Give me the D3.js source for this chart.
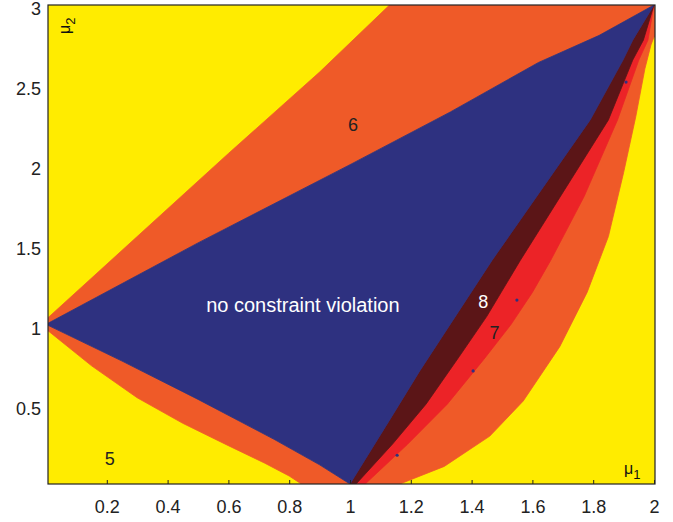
<!DOCTYPE html>
<html>
<head>
<meta charset="utf-8">
<script src="https://cdn.jsdelivr.net/npm/d3@7"></script>
<style>
  body { margin: 0; background: #fff; }
  svg { display: block; font-family: "Liberation Sans", Arial, sans-serif; }
</style>
</head>
<body>
<div id="chart"></div>
<script>
// Region boundaries as [mu1, mu2] pairs
const blueTop = [[0, 1], [0.5, 1.51], [1.0, 2.0], [1.33, 2.33], [1.62, 2.64], [1.82, 2.81], [2, 3]];
const blueLow = [[0, 1], [0.25, 0.77], [0.5, 0.53], [0.75, 0.28], [0.9, 0.12], [1, 0]];
const blueRight = [[1, 0], [1.13, 0.40], [1.23, 0.71], [1.467, 1.40], [1.79, 2.28], [1.898, 2.655], [1.93, 2.78], [2, 3]];
const maroonEdge = [[1.02, 0], [1.14, 0.25], [1.25, 0.5], [1.36, 0.80], [1.45, 1.05], [1.56, 1.40], [1.85, 2.28], [1.93, 2.655], [1.965, 2.78], [2, 3]];
const redEdge = [[1.05, 0], [1.19, 0.25], [1.32, 0.5], [1.44, 0.78], [1.53, 1.0], [1.60, 1.2], [1.66, 1.40], [1.77, 1.80], [1.88, 2.28], [1.95, 2.655], [1.98, 2.78], [2, 3]];
const orangeUpper = [[0, 1.03], [0.3, 1.55], [0.6, 2.07], [0.9, 2.58], [1.13, 3]];
const orangeLower = [[0, 0.97], [0.15, 0.74], [0.3, 0.54], [0.45, 0.38], [0.6, 0.24], [0.72, 0.13], [0.8, 0.05], [0.84, 0]];
const orangeRight = [[1.164, 0], [1.31, 0.11], [1.46, 0.30], [1.57, 0.52], [1.69, 0.86], [1.78, 1.2], [1.85, 1.55], [1.90, 1.95], [1.94, 2.3], [1.97, 2.6], [1.99, 2.75], [2, 2.8]];
const strayPts = [[1.549, 1.152], [1.405, 0.708], [1.155, 0.18], [1.908, 2.517]];

const xTicks = [0.2, 0.4, 0.6, 0.8, 1, 1.2, 1.4, 1.6, 1.8, 2];
const yTicks = [0.5, 1, 1.5, 2, 2.5, 3];

const regionLabels = [
  { text: "5", mu1: 0.21, mu2: 0.16, fill: "#222" },
  { text: "6", mu1: 1.01, mu2: 2.25, fill: "#222" },
  { text: "7", mu1: 1.475, mu2: 0.95, fill: "#222" },
  { text: "8", mu1: 1.438, mu2: 1.14, fill: "#fff" },
  { text: "no constraint violation", mu1: 0.845, mu2: 1.12, fill: "#fff" }
];

const colors = {
  yellow: "#ffec00",
  orange: "#ef5a28",
  red: "#ec2327",
  maroon: "#5b1517",
  blue: "#2e3180"
};

const W = 673, H = 522;
const frame = { left: 48, right: 655, top: 5, bottom: 484 };

const x = d3.scaleLinear().domain([0, 2]).range([46, 654]);
const y = d3.scaleLinear().domain([0, 3]).range([484, 5]);

const svg = d3.select("#chart").append("svg")
  .attr("width", W).attr("height", H);

svg.append("defs").append("clipPath").attr("id", "plotClip")
  .append("rect")
  .attr("x", frame.left).attr("y", frame.top)
  .attr("width", frame.right - frame.left)
  .attr("height", frame.bottom - frame.top);

const plot = svg.append("g").attr("clip-path", "url(#plotClip)");

const line = d3.line()
  .x(d => x(d[0]))
  .y(d => y(d[1]))
  .curve(d3.curveLinearClosed);

const rev = a => a.slice().reverse();

// background: yellow (region 5)
plot.append("rect")
  .attr("x", x(-0.1)).attr("y", y(3.1))
  .attr("width", x(2.1) - x(-0.1)).attr("height", y(-0.1) - y(3.1))
  .attr("fill", colors.yellow);

const polys = [
  { pts: orangeUpper.concat([[2.1, 3.1], [2.1, 3]], rev(blueTop)), fill: colors.orange },
  { pts: orangeLower.concat([[1, 0]], rev(blueLow)), fill: colors.orange },
  { pts: orangeRight.concat([[2.1, 2.8], [2.1, 3.1], [2, 3]], rev(blueRight)), fill: colors.orange },
  { pts: redEdge.concat(rev(blueRight)), fill: colors.red },
  { pts: maroonEdge.concat(rev(blueRight)), fill: colors.maroon },
  { pts: blueTop.concat(rev(blueRight).slice(1), rev(blueLow).slice(1)), fill: colors.blue }
];

plot.selectAll("path.region")
  .data(polys)
  .join("path")
  .attr("class", "region")
  .attr("d", d => line(d.pts))
  .attr("fill", d => d.fill)
  .attr("stroke", d => d.fill)
  .attr("stroke-width", 0.8);

plot.selectAll("circle.stray")
  .data(strayPts)
  .join("circle")
  .attr("class", "stray")
  .attr("cx", d => x(d[0]))
  .attr("cy", d => y(d[1]))
  .attr("r", 1.6)
  .attr("fill", colors.blue);

// labels inside regions
svg.selectAll("text.rlabel")
  .data(regionLabels)
  .join("text")
  .attr("class", "rlabel")
  .attr("x", d => x(d.mu1))
  .attr("y", d => y(d.mu2))
  .attr("dy", "0.36em")
  .attr("text-anchor", "middle")
  .attr("font-size", d => d.text.length > 2 ? 20 : 18)
  .attr("fill", d => d.fill)
  .text(d => d.text);

// axis frame
svg.append("rect")
  .attr("x", frame.left).attr("y", frame.top)
  .attr("width", frame.right - frame.left)
  .attr("height", frame.bottom - frame.top)
  .attr("fill", "none")
  .attr("stroke", "#222")
  .attr("stroke-width", 1.2);

const fmt = d => String(+d.toFixed(1));

const xAxis = svg.append("g")
  .attr("transform", `translate(0,${frame.bottom})`)
  .call(d3.axisBottom(x).tickValues(xTicks).tickFormat(fmt)
    .tickSizeInner(-4).tickSizeOuter(0).tickPadding(16));
xAxis.select(".domain").remove();
xAxis.selectAll("line").attr("stroke", "#222");
xAxis.selectAll("text").attr("font-size", 18).attr("fill", "#222")
  .attr("font-family", "Liberation Sans, Arial, sans-serif");

const yAxis = svg.append("g")
  .attr("transform", `translate(${frame.left},0)`)
  .call(d3.axisLeft(y).tickValues(yTicks).tickFormat(fmt)
    .tickSize(0).tickPadding(7));
yAxis.select(".domain").remove();
yAxis.selectAll("text").attr("font-size", 18).attr("fill", "#222")
  .attr("dy", "0.55em")
  .attr("font-family", "Liberation Sans, Arial, sans-serif");

// axis symbols inside the frame
const mu1 = svg.append("text")
  .attr("x", 624).attr("y", 474)
  .attr("font-size", 16).attr("fill", "#111");
mu1.append("tspan").text("\u03bc");
mu1.append("tspan").attr("font-size", 13).attr("dy", 5).text("1");

const mu2 = svg.append("text")
  .attr("transform", "translate(70,34) rotate(-90)")
  .attr("font-size", 16).attr("fill", "#111");
mu2.append("tspan").text("\u03bc");
mu2.append("tspan").attr("font-size", 13).attr("dy", 5).text("2");
</script>
</body>
</html>
